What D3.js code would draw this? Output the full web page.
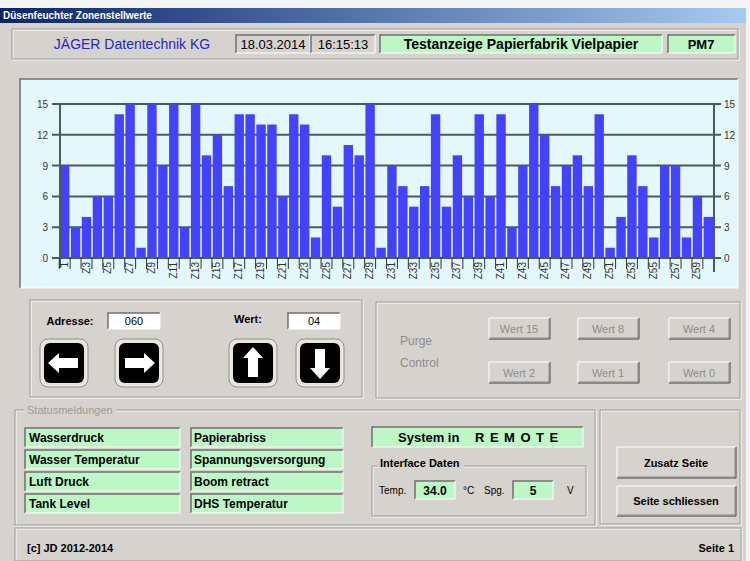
<!DOCTYPE html>
<html>
<head>
<meta charset="utf-8">
<script src="https://cdn.jsdelivr.net/npm/d3@7"></script>
<style>
  body { margin: 0; background: #ffffff; }
  svg { display: block; }
  text { font-family: "Liberation Sans", Arial, sans-serif; }
</style>
</head>
<body>
<svg id="chart" width="750" height="561"></svg>
<script>
// zone names (every second one is printed under the axis)
const categories = [
  "1","Z2","Z3","Z4","Z5","Z6","Z7","Z8","Z9","Z10",
  "Z11","Z12","Z13","Z14","Z15","Z16","Z17","Z18","Z19","Z20",
  "Z21","Z22","Z23","Z24","Z25","Z26","Z27","Z28","Z29","Z30",
  "Z31","Z32","Z33","Z34","Z35","Z36","Z37","Z38","Z39","Z40",
  "Z41","Z42","Z43","Z44","Z45","Z46","Z47","Z48","Z49","Z50",
  "Z51","Z52","Z53","Z54","Z55","Z56","Z57","Z58","Z59","Z60"
];
const values = [
  9, 3, 4, 6, 6, 14, 15, 1, 15, 9,
  15, 3, 15, 10, 12, 7, 14, 14, 13, 13,
  6, 14, 13, 2, 10, 5, 11, 10, 15, 1,
  9, 7, 5, 7, 14, 5, 10, 6, 14, 6,
  14, 3, 9, 15, 12, 7, 9, 10, 7, 14,
  1, 4, 10, 7, 2, 9, 9, 2, 6, 4
];
const yTicks = [0, 3, 6, 9, 12, 15];

const statusLeft = ["Wasserdruck", "Wasser Temperatur", "Luft Druck", "Tank Level"];
const statusRight = ["Papierabriss", "Spannungsversorgung", "Boom retract", "DHS Temperatur"];
const purgeTop = ["Wert 15", "Wert 8", "Wert 4"];
const purgeBottom = ["Wert 2", "Wert 1", "Wert 0"];

const svg = d3.select("#chart");
const FACE = "#d6d3ce";
const GREEN = "#bdf7c6";

// ---- little helpers for the win32 look ----
function sunken(x, y, w, h, fill) {
  svg.append("rect").attr("x", x).attr("y", y).attr("width", w).attr("height", h).attr("fill", fill);
  svg.append("path").attr("d", `M${x},${y + h}V${y}H${x + w}`).attr("fill", "none").attr("stroke", "#707070").attr("stroke-width", 1.5);
  svg.append("path").attr("d", `M${x + w},${y}V${y + h}H${x}`).attr("fill", "none").attr("stroke", "#ffffff").attr("stroke-width", 1);
}
function raised(x, y, w, h) {
  svg.append("rect").attr("x", x).attr("y", y).attr("width", w).attr("height", h).attr("fill", FACE);
  svg.append("path").attr("d", `M${x},${y + h}V${y}H${x + w}`).attr("fill", "none").attr("stroke", "#ffffff");
  svg.append("path").attr("d", `M${x + w},${y}V${y + h}H${x}`).attr("fill", "none").attr("stroke", "#404040");
  svg.append("path").attr("d", `M${x + w - 1},${y + 1}V${y + h - 1}H${x + 1}`).attr("fill", "none").attr("stroke", "#8a8a8a");
}
function groove(x, y, w, h) {
  svg.append("rect").attr("x", x + 1).attr("y", y + 1).attr("width", w).attr("height", h).attr("fill", "none").attr("stroke", "#ffffff");
  svg.append("rect").attr("x", x).attr("y", y).attr("width", w).attr("height", h).attr("fill", "none").attr("stroke", "#9a9a9a");
}
function label(x, y, t, opts = {}) {
  return svg.append("text").attr("x", x).attr("y", y).text(t)
    .attr("font-size", opts.size || 12)
    .attr("font-weight", opts.bold ? "bold" : "normal")
    .attr("fill", opts.color || "#000")
    .attr("text-anchor", opts.anchor || "start")
    .attr("letter-spacing", opts.spacing || 0);
}

// ---- window frame and title bar ----
svg.append("rect").attr("width", 750).attr("height", 561).attr("fill", "#f4f4f4");
svg.append("rect").attr("x", 0).attr("y", 8).attr("width", 746).attr("height", 553).attr("fill", FACE);
const grad = svg.append("defs").append("linearGradient").attr("id", "tbar");
grad.append("stop").attr("offset", "0%").attr("stop-color", "#0a246a");
grad.append("stop").attr("offset", "100%").attr("stop-color", "#a6caf0");
svg.append("rect").attr("x", 0).attr("y", 8).attr("width", 746).attr("height", 15).attr("fill", "url(#tbar)");
label(3, 19, "Düsenfeuchter Zonenstellwerte", { size: 10, bold: true, color: "#fff" });

// ---- header line ----
groove(12, 29, 726, 30);
label(132, 49, "JÄGER Datentechnik KG", { size: 14, color: "#2626c8", anchor: "middle" });
sunken(236, 35, 74, 18, FACE);
label(273, 49, "18.03.2014", { size: 13, anchor: "middle" });
sunken(311, 35, 64, 18, FACE);
label(343, 49, "16:15:13", { size: 13, anchor: "middle" });
sunken(380, 35, 282, 18, GREEN);
label(521, 49, "Testanzeige Papierfabrik Vielpapier", { size: 14, bold: true, anchor: "middle" });
sunken(668, 35, 67, 18, GREEN);
label(701, 49, "PM7", { size: 13, bold: true, anchor: "middle" });

// ---- bar chart ----
sunken(20, 79, 718, 209, "#e4f7fa");

const x = d3.scaleBand().domain(categories).range([60, 713]).paddingInner(0.14).paddingOuter(0);
const y = d3.scaleLinear().domain([0, 15]).range([258, 104]);
const step = x.step();

svg.append("g").selectAll("line").data(yTicks).join("line")
  .attr("x1", 52).attr("x2", 721)
  .attr("y1", d => y(d)).attr("y2", d => y(d))
  .attr("stroke", "#4b5b5b").attr("stroke-width", 2);

svg.append("g").selectAll("rect").data(values).join("rect")
  .attr("x", (d, i) => x(categories[i]))
  .attr("y", d => y(d))
  .attr("width", x.bandwidth())
  .attr("height", d => y(0) - y(d))
  .attr("fill", "#4343fb");

// left and right value axes
svg.append("line").attr("x1", 60).attr("x2", 60).attr("y1", y(15)).attr("y2", 268).attr("stroke", "#4b5b5b").attr("stroke-width", 2);
svg.append("line").attr("x1", 714).attr("x2", 714).attr("y1", y(15)).attr("y2", 272).attr("stroke", "#4b5b5b").attr("stroke-width", 2);
svg.append("g").selectAll("text").data(yTicks).join("text")
  .attr("x", 48).attr("y", d => y(d) + 4).attr("text-anchor", "end")
  .attr("font-size", 10).attr("fill", "#333").text(d => d);
svg.append("g").selectAll("text").data(yTicks).join("text")
  .attr("x", 724).attr("y", d => y(d) + 4).attr("text-anchor", "start")
  .attr("font-size", 10).attr("fill", "#333").text(d => d);

// category axis: a tick at every bar edge, a name under every second bar
svg.append("g").selectAll("line").data(categories).join("line")
  .attr("x1", d => x(d) - step * 0.07).attr("x2", d => x(d) - step * 0.07)
  .attr("y1", 258).attr("y2", 269)
  .attr("stroke", "#333").attr("stroke-width", 1);
svg.append("g").selectAll("text").data(categories.filter((d, i) => i % 2 === 0)).join("text")
  .attr("transform", d => `translate(${x(d) + x.bandwidth() / 2 + 3},262) rotate(-90)`)
  .attr("text-anchor", "end").attr("font-size", 10).attr("fill", "#333").text(d => d);

// ---- address / value panel ----
groove(30, 300, 332, 97);
label(70, 325, "Adresse:", { size: 11, bold: true, anchor: "middle" });
sunken(108, 313, 52, 16, "#fff");
label(134, 325, "060", { size: 11, anchor: "middle" });
label(248, 323, "Wert:", { size: 11, bold: true, anchor: "middle" });
sunken(288, 313, 52, 16, "#fff");
label(314, 325, "04", { size: 11, anchor: "middle" });

const arrowShape = "M-16,0L-5,-10V-5H14V5H-5V10Z"; // pointing left
[[64, 363, 0], [139, 363, 180], [253, 363, 90], [320, 363, -90]].forEach(([cx, cy, rot]) => {
  svg.append("rect").attr("x", cx - 24).attr("y", cy - 24).attr("width", 48).attr("height", 48).attr("rx", 8)
    .attr("fill", "#e8e6e2").attr("stroke", "#8e8e8e");
  svg.append("rect").attr("x", cx - 20).attr("y", cy - 20).attr("width", 40).attr("height", 40).attr("rx", 6)
    .attr("fill", "#000");
  svg.append("path").attr("d", arrowShape).attr("fill", "#fff")
    .attr("transform", `translate(${cx},${cy}) rotate(${rot})`);
});

// ---- purge control panel ----
groove(376, 302, 364, 96);
label(400, 345, "Purge", { size: 12, color: "#8c8c8c" });
label(400, 367, "Control", { size: 12, color: "#8c8c8c" });
const purgeX = [489, 578, 669];
purgeTop.forEach((t, i) => {
  raised(purgeX[i], 318, 61, 21);
  label(purgeX[i] + 30, 333, t, { size: 11, color: "#8c8c8c", anchor: "middle" });
});
purgeBottom.forEach((t, i) => {
  raised(purgeX[i], 362, 61, 21);
  label(purgeX[i] + 30, 377, t, { size: 11, color: "#8c8c8c", anchor: "middle" });
});

// ---- status messages ----
groove(15, 410, 580, 115);
svg.append("rect").attr("x", 24).attr("y", 404).attr("width", 92).attr("height", 12).attr("fill", FACE);
label(27, 414, "Statusmeldungen", { size: 11, color: "#9a9a9a" });
statusLeft.forEach((t, i) => {
  sunken(25, 428 + i * 22, 155, 19, GREEN);
  label(29, 442 + i * 22, t, { size: 12, bold: true });
});
statusRight.forEach((t, i) => {
  sunken(191, 428 + i * 22, 152, 19, GREEN);
  label(194, 442 + i * 22, t, { size: 12, bold: true });
});

sunken(372, 427, 211, 20, GREEN);
label(398, 442, "System in", { size: 13, bold: true });
label(475, 442, "REMOTE", { size: 13, bold: true, spacing: 5.5 });

groove(372, 466, 214, 50);
svg.append("rect").attr("x", 378).attr("y", 458).attr("width", 86).attr("height", 12).attr("fill", FACE);
label(380, 467, "Interface Daten", { size: 11, bold: true });
label(379, 494, "Temp.", { size: 10 });
sunken(415, 481, 40, 18, GREEN);
label(435, 495, "34.0", { size: 12, bold: true, anchor: "middle" });
label(463, 494, "°C", { size: 10 });
label(484, 494, "Spg.", { size: 10 });
sunken(513, 481, 40, 18, GREEN);
label(533, 495, "5", { size: 12, bold: true, anchor: "middle" });
label(567, 494, "V", { size: 10 });

// ---- page buttons ----
groove(600, 410, 140, 114);
raised(617, 447, 119, 31);
label(676, 467, "Zusatz Seite", { size: 11, bold: true, anchor: "middle" });
raised(617, 486, 119, 30);
label(676, 505, "Seite schliessen", { size: 11, bold: true, anchor: "middle" });

// ---- status bar ----
groove(15, 528, 726, 33);
label(27, 552, "[c] JD 2012-2014", { size: 11, bold: true });
label(734, 552, "Seite 1", { size: 11, bold: true, anchor: "end" });
</script>
</body>
</html>
